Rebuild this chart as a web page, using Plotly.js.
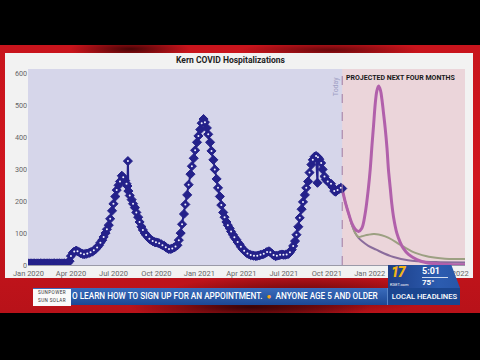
<!DOCTYPE html>
<html>
<head>
<meta charset="utf-8">
<script src="https://cdn.plot.ly/plotly-3.0.1.min.js"></script>
<style>
  html, body { margin:0; padding:0; width:480px; height:360px; overflow:hidden; background:#000; }
  #bg { position:absolute; left:0; top:45px; width:480px; height:268px;
        background:
          radial-gradient(ellipse 60px 10px at 130px 4px, rgba(40,0,0,0.8), rgba(40,0,0,0) 100%),
          radial-gradient(ellipse 90px 8px at 330px 5px, rgba(40,0,0,0.6), rgba(40,0,0,0) 100%),
          radial-gradient(ellipse 120px 14px at 250px 262px, rgba(30,0,0,0.8), rgba(30,0,0,0) 100%),
          radial-gradient(ellipse 140px 20px at 300px 250px, rgba(30,0,0,0.6), rgba(30,0,0,0) 100%),
          linear-gradient(#c8141c, #d0161e 50%, #b81219);
  }
  #panel { position:absolute; left:5px; top:53px; width:468px; height:225px; background:#f2f2f2; }
  #plot { position:absolute; left:0; top:0; width:480px; height:360px; }
  .ov { position:absolute; font-family: Roboto, "Liberation Sans", sans-serif; }
  #ticker { left:33px; top:288px; width:427px; height:17px; background:linear-gradient(#3a6cbc, #1c4894); overflow:hidden; }
  #tickText { left:39px; top:0; width:311px; height:17px; line-height:17px; color:#fff; font-size:8.2px; font-weight:500; white-space:nowrap; overflow:hidden; }
  #local { left:354px; top:0; width:73px; height:17px; line-height:17px; color:#fff; font-size:7.6px; font-weight:500; background:#1b4690; border-left:1px solid #5a86c8; text-align:center; }
  #sun { left:33px; top:289px; width:38px; height:17px; background:#fafafa; color:#333; font-size:4.6px; line-height:8px; text-align:center; letter-spacing:0.4px; }
  #logo { left:388px; top:265px; width:72px; height:23px; background:linear-gradient(90deg,#1d3f88,#2c5cb0 70%,#2856a8); clip-path:polygon(0 0, 88% 0, 100% 100%, 0 100%); }
  #seventeen { left:3px; top:0px; height:15px; line-height:15px; font-size:14px; font-weight:900; font-style:italic; color:#f0b418; letter-spacing:-1px; }
  #kget { left:2px; top:17px; height:5px; line-height:5px; font-size:4px; color:#fff; }
  #time { left:34px; top:1px; height:10px; line-height:10px; font-size:9px; font-weight:700; color:#fff; }
  #temp { left:34px; top:12px; height:10px; line-height:10px; font-size:8px; font-weight:700; color:#fff; border-top:1px solid #cfdcf0; width:26px; }
</style>
</head>
<body>
<div id="bg"></div>
<div id="panel"></div>
<div id="plot"></div>
<div class="ov" id="ticker">
  <div class="ov" id="tickText">O LEARN HOW TO SIGN UP FOR AN APPOINTMENT. &nbsp;<span style="color:#f5a623">&#9679;</span>&nbsp; ANYONE AGE 5 AND OLDER</div>
  <div class="ov" id="local">LOCAL HEADLINES</div>
</div>
<div class="ov" id="sun">SUNPOWER<br>SUN SOLAR</div>
<div class="ov" id="logo">
  <div class="ov" id="seventeen">17</div>
  <div class="ov" id="kget">KGET.com</div>
  <div class="ov" id="time">5:01</div>
  <div class="ov" id="temp">75°</div>
</div>
<script>
const histDates = [
  "2020-01-01","2020-01-05","2020-01-08","2020-01-12","2020-01-15","2020-01-19","2020-01-22","2020-01-26","2020-01-29",
  "2020-02-02","2020-02-05","2020-02-09","2020-02-12","2020-02-16","2020-02-19","2020-02-23","2020-02-26",
  "2020-03-01","2020-03-04","2020-03-08","2020-03-11","2020-03-15","2020-03-18","2020-03-22","2020-03-25","2020-03-29",
  "2020-04-01","2020-04-05","2020-04-08","2020-04-12","2020-04-15","2020-04-19","2020-04-22","2020-04-26","2020-04-29",
  "2020-05-03","2020-05-06","2020-05-10","2020-05-13","2020-05-17","2020-05-20","2020-05-24","2020-05-27","2020-05-31",
  "2020-06-03","2020-06-07","2020-06-10","2020-06-14","2020-06-17","2020-06-21","2020-06-24","2020-06-28",
  "2020-07-01","2020-07-05","2020-07-08","2020-07-12","2020-07-15","2020-07-19","2020-07-22","2020-07-26","2020-07-29","2020-07-31",
  "2020-08-01","2020-08-02","2020-08-05","2020-08-09","2020-08-12","2020-08-16","2020-08-19","2020-08-23","2020-08-26","2020-08-30",
  "2020-09-02","2020-09-06","2020-09-09","2020-09-13","2020-09-16","2020-09-20","2020-09-23","2020-09-27","2020-09-30",
  "2020-10-04","2020-10-07","2020-10-11","2020-10-14","2020-10-18","2020-10-21","2020-10-25","2020-10-28",
  "2020-11-01","2020-11-04","2020-11-08","2020-11-11","2020-11-15","2020-11-18","2020-11-22","2020-11-25","2020-11-29",
  "2020-12-02","2020-12-06","2020-12-09","2020-12-13","2020-12-16","2020-12-20","2020-12-23","2020-12-27","2020-12-30",
  "2021-01-03","2021-01-06","2021-01-10","2021-01-13","2021-01-17","2021-01-20","2021-01-24","2021-01-27","2021-01-31",
  "2021-02-03","2021-02-07","2021-02-10","2021-02-14","2021-02-17","2021-02-21","2021-02-24","2021-02-28",
  "2021-03-03","2021-03-07","2021-03-10","2021-03-14","2021-03-17","2021-03-21","2021-03-24","2021-03-28","2021-03-31",
  "2021-04-04","2021-04-07","2021-04-11","2021-04-14","2021-04-18","2021-04-21","2021-04-25","2021-04-28",
  "2021-05-02","2021-05-05","2021-05-09","2021-05-12","2021-05-16","2021-05-19","2021-05-23","2021-05-26","2021-05-30",
  "2021-06-02","2021-06-06","2021-06-09","2021-06-13","2021-06-16","2021-06-20","2021-06-23","2021-06-27","2021-06-30",
  "2021-07-04","2021-07-07","2021-07-11","2021-07-14","2021-07-18","2021-07-21","2021-07-25","2021-07-28",
  "2021-08-01","2021-08-04","2021-08-08","2021-08-11","2021-08-15","2021-08-18","2021-08-22","2021-08-25","2021-08-29",
  "2021-09-01","2021-09-05","2021-09-08","2021-09-11","2021-09-12","2021-09-15","2021-09-19","2021-09-22","2021-09-26","2021-09-29",
  "2021-10-03","2021-10-06","2021-10-10","2021-10-13","2021-10-17","2021-10-20","2021-10-24","2021-10-27","2021-10-31",
  "2021-11-03"
];
const histValues = [
  5,5,5,5,5,5,5,5,5,
  5,5,5,5,5,5,5,5,
  5,5,5,5,5,5,5,6,12,
  28,38,42,45,43,40,37,35,34,
  35,36,38,40,42,46,50,55,62,
  70,78,88,100,112,125,145,170,
  192,215,235,250,262,280,275,265,255,248,
  326,232,218,205,192,180,165,150,135,120,
  110,100,94,88,82,78,75,72,71,
  70,68,65,62,60,56,52,50,
  50,52,55,58,62,78,100,128,160,
  190,220,252,285,310,335,360,385,405,
  425,445,458,448,430,410,385,358,330,
  300,270,242,215,188,165,150,135,
  125,115,105,95,87,80,72,65,57,
  50,45,40,36,33,31,30,29,
  28,29,30,32,33,35,38,41,43,
  40,35,31,28,29,30,32,33,32,
  32,33,35,40,48,60,75,95,
  120,148,175,198,220,242,262,290,315,
  330,340,342,258,338,332,320,300,278,268,
  262,258,255,245,232,230,235,238,242,
  240
];

// Projections
const highDates = ["2021-11-03","2021-11-10","2021-11-17","2021-11-24","2021-12-01","2021-12-08","2021-12-15",
  "2021-12-22","2021-12-29","2022-01-02","2022-01-06","2022-01-09","2022-01-13","2022-01-16","2022-01-20",
  "2022-01-24","2022-01-27","2022-01-31","2022-02-03","2022-02-07","2022-02-10","2022-02-14","2022-02-17",
  "2022-02-21","2022-02-28","2022-03-07","2022-03-14","2022-03-25","2022-04-12","2022-05-03","2022-06-01",
  "2022-07-01","2022-07-24"];
const highValues = [238,195,160,130,112,105,115,
  160,240,300,380,435,510,545,562,
  548,520,470,430,365,300,240,195,
  150,100,72,52,33,17,7,3,
  1,1];

const midDates = ["2021-11-03","2021-11-10","2021-11-17","2021-11-24","2021-12-01","2021-12-08","2021-12-15",
  "2021-12-22","2021-12-29","2022-01-09","2022-01-20","2022-02-03","2022-02-17","2022-03-03","2022-03-17",
  "2022-04-01","2022-04-15","2022-05-01","2022-05-15","2022-06-01","2022-06-20","2022-07-24"];
const midValues = [238,195,160,125,100,88,90,
  93,95,97,96,90,80,67,55,
  43,35,28,24,21,19,19];

const lowDates = ["2021-11-03","2021-11-10","2021-11-17","2021-11-24","2021-12-01","2021-12-08","2021-12-15",
  "2021-12-29","2022-01-15","2022-02-01","2022-02-15","2022-03-01","2022-03-15","2022-04-01","2022-05-01",
  "2022-06-01","2022-07-24"];
const lowValues = [238,195,160,125,100,85,75,
  60,48,36,28,22,17,13,10,
  9,8];

const todayDate = "2021-11-03";
const xTickFormat = "%b %Y";
const titleText = "Kern COVID Hospitalizations";
const projText = "PROJECTED NEXT FOUR MONTHS";

// white centre specks of the diamond markers (every other observation, after the flat start)
const speckDates = histDates.filter((d, i) => i % 2 === 0 && d >= "2020-03-29");
const speckValues = histValues.filter((v, i) => i % 2 === 0 && histDates[i] >= "2020-03-29");

const navy = "#24218a";
const traces = [
  { x: lowDates, y: lowValues, type: "scatter", mode: "lines", line: {color: "#8a6c9c", width: 2, shape: "spline"}, hoverinfo: "skip" },
  { x: midDates, y: midValues, type: "scatter", mode: "lines", line: {color: "#9ca082", width: 2, shape: "spline"}, hoverinfo: "skip" },
  { x: highDates, y: highValues, type: "scatter", mode: "lines", line: {color: "#b160ab", width: 3, shape: "spline"}, hoverinfo: "skip" },
  { x: histDates, y: histValues, type: "scatter", mode: "lines+markers",
    line: {color: navy, width: 2},
    marker: {symbol: "diamond", size: 7, color: navy, line: {color: navy, width: 1}} },
  { x: speckDates, y: speckValues, type: "scatter", mode: "markers",
    marker: {symbol: "circle", size: 2, color: "#f4f4ff", line: {width: 0}} }
];

const layout = {
  width: 480, height: 360,
  margin: {l: 28, r: 15, t: 69, b: 95},
  paper_bgcolor: "rgba(0,0,0,0)",
  plot_bgcolor: "#d6d6ea",
  showlegend: false,
  font: {family: "Roboto, 'Liberation Sans', sans-serif", size: 7.5, color: "#666"},
  title: {text: titleText, x: 230.5/480, xanchor: "center", y: 1 - 60/360, yanchor: "middle", yref: "container",
          font: {family: "Roboto, sans-serif", size: 8.5, weight: 700, color: "#222"}},
  xaxis: {type: "date", range: ["2019-12-31", "2022-07-24"], tick0: "2020-01-01", dtick: "M3",
          tickformat: xTickFormat, showgrid: false, zeroline: false, showline: true, linecolor: "#9a9aa8", linewidth: 1,
          ticks: "", ticklabelstandoff: 1, tickfont: {size: 7.5, color: "#666"}},
  yaxis: {range: [0, 615], dtick: 100, showgrid: false, zeroline: false, showline: false, ticks: "",
          tickfont: {size: 7.2, color: "#666"}},
  shapes: [
    {type: "rect", xref: "x", yref: "paper", x0: todayDate, x1: "2022-07-24", y0: 0, y1: 1,
     fillcolor: "#ebd5da", line: {width: 0}, layer: "below"},
    {type: "line", xref: "x", yref: "paper", x0: todayDate, x1: todayDate, y0: 0, y1: 1,
     line: {color: "#a07aa2", width: 1, dash: "dash"}, layer: "above"}
  ],
  annotations: [
    {text: "Today", xref: "x", yref: "paper", x: todayDate, y: 1, xanchor: "right", yanchor: "top",
     textangle: -90, showarrow: false, xshift: 0, yshift: -5, font: {size: 7, color: "#a0a0c4"}},
    {text: projText, xref: "paper", yref: "paper", x: 1, y: 1, xanchor: "right", yanchor: "top",
     showarrow: false, xshift: -7, yshift: -3, font: {size: 7.0, weight: 700, color: "#1a1a1a"}}
  ]
};

Plotly.newPlot("plot", traces, layout, {staticPlot: true, displayModeBar: false});
</script>
</body>
</html>
